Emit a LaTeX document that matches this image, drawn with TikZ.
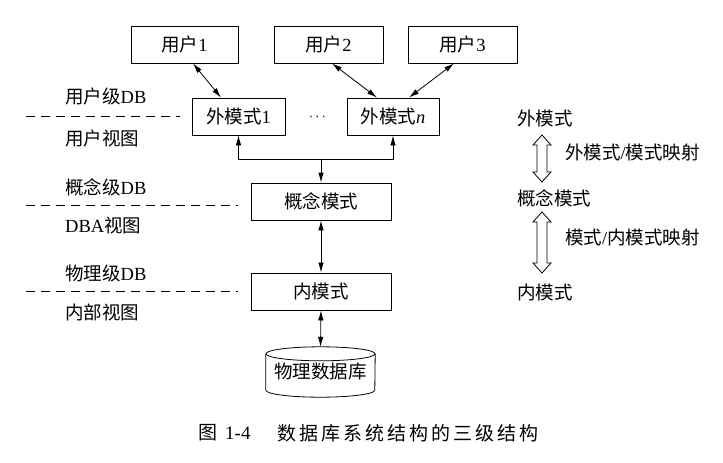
\documentclass[tikz,border=0pt]{standalone}
\usepackage{fontspec}
\setmainfont{Liberation Serif}
\newfontfamily\cjk{Noto Sans CJK SC}
\usetikzlibrary{arrows.meta,calc}
\newcommand{\lsp}[1]{#1\kern3pt}
\begin{document}
\begin{tikzpicture}[x=1pt,y=-1pt,
  box/.style={draw, line width=0.8pt, inner sep=0pt, minimum height=37pt, font=\fontsize{18.5}{20}\selectfont},
  lbl/.style={font=\fontsize{18.5}{20}\selectfont, inner sep=0pt, anchor=west},
  tip/.style={-{Latex[length=10pt,width=5.5pt]}},
  arr/.style={line width=0.8pt, tip},
  darr/.style={line width=0.8pt, {Latex[length=10pt,width=5.5pt]}-{Latex[length=10pt,width=5.5pt]}},
  lvl/.style={line width=0.8pt, dash pattern=on 9pt off 6pt},
  hollow/.style={line width=0.8pt, fill=white, line join=miter}]
\useasboundingbox (0,0) rectangle (723,463);

% boxes
\node[box, minimum width=107pt] (u1) at (184.5,44.5) {{\cjk 用户}1};
\node[box, minimum width=109pt] (u2) at (328.5,44.5) {{\cjk 用户}2};
\node[box, minimum width=109pt] (u3) at (462.5,44.5) {{\cjk 用户}3};
\node[box, minimum width=93pt] (e1) at (238.5,116.5) {{\cjk 外模式}1};
\node[box, minimum width=92pt] (en) at (393,116.5) {{\cjk 外模式}\textit{n}};
\node[inner sep=0pt, font=\fontsize{14}{16}\selectfont] (dots) at (317.5,117) {$\cdots$};
\node[box, minimum width=140pt] (c) at (321,201.5) {\cjk 概念模式};
\node[box, minimum width=140pt] (i) at (321,291.5) {\cjk 内模式};
\node[inner sep=0pt, minimum width=109pt, minimum height=50pt, font=\fontsize{18.5}{20}\selectfont] (db) at (320.5,372) {\raisebox{-3pt}{\cjk 物理数据库}};
\draw[line width=0.8pt] ([yshift=-7pt]db.north west) -- ([yshift=7pt]db.south west)
  arc[start angle=180, end angle=360, x radius=54.5pt, y radius=7pt]
  -- ([yshift=-7pt]db.north east);
\draw[line width=0.8pt] ([yshift=-7pt]db.north) ellipse [x radius=54.5pt, y radius=7pt];

% user arrows
\draw[darr] ([xshift=8.5pt]u1.south) -- ([xshift=-17.5pt]e1.north);
\draw[darr] ([xshift=3.5pt]u2.south) -- ([xshift=-16pt]en.north);
\draw[darr] ([xshift=-8.5pt]u3.south) -- ([xshift=16pt]en.north);

% bracket
\coordinate (j) at (321,159);
\draw[arr] (j) -| (e1.south);
\draw[arr] (j) -| (en.south);
\draw[arr] (j) -- (c.north);
\draw[darr] (c.south) -- (i.north);
\draw[darr] (i.south) -- (db.north);

% left labels
\node[lbl] (l1) at (65,96) {{\cjk 用户级}DB};
\node[lbl] (l2) at (65,138) {\cjk 用户视图};
\node[lbl] (l3) at (65,187) {{\cjk 概念级}DB};
\node[lbl] (l4) at (65,225) {DBA{\cjk 视图}};
\node[lbl] (l5) at (65,273) {{\cjk 物理级}DB};
\node[lbl] (l6) at (65,312) {\cjk 内部视图};
\draw[lvl] (26,116) -- (180,116);
\draw[lvl] (26,205) -- (238,205);
\draw[lvl] (26,291) -- (238,291);

% right labels
\node[lbl] (r1) at (517,118) {\cjk 外模式};
\node[lbl] (r2) at (517,198) {\cjk 概念模式};
\node[lbl] (r3) at (517,292) {\cjk 内模式};
\node[lbl] (m1) at (565,152) {{\cjk 外模式}/{\cjk 模式映射}};
\node[lbl] (m2) at (565,237) {{\cjk 模式}/{\cjk 内模式映射}};
\draw[hollow] (542,135) -- (551,145) -- (547,145) -- (547,172) -- (551,172) -- (542,182)
  -- (533,172) -- (537,172) -- (537,145) -- (533,145) -- cycle;
\draw[hollow] (542,212) -- (551,222) -- (547,222) -- (547,263) -- (551,263) -- (542,273)
  -- (533,263) -- (537,263) -- (537,222) -- (533,222) -- cycle;

% caption
\node[lbl, font=\fontsize{19}{21}\selectfont] (cap1) at (198,433) {{\cjk 图}\kern8pt 1-4};
\node[lbl, font=\fontsize{19}{21}\selectfont] (cap2) at (277,433) {\cjk\lsp{数}\lsp{据}\lsp{库}\lsp{系}\lsp{统}\lsp{结}\lsp{构}\lsp{的}\lsp{三}\lsp{级}\lsp{结}构};
\end{tikzpicture}
\end{document}
